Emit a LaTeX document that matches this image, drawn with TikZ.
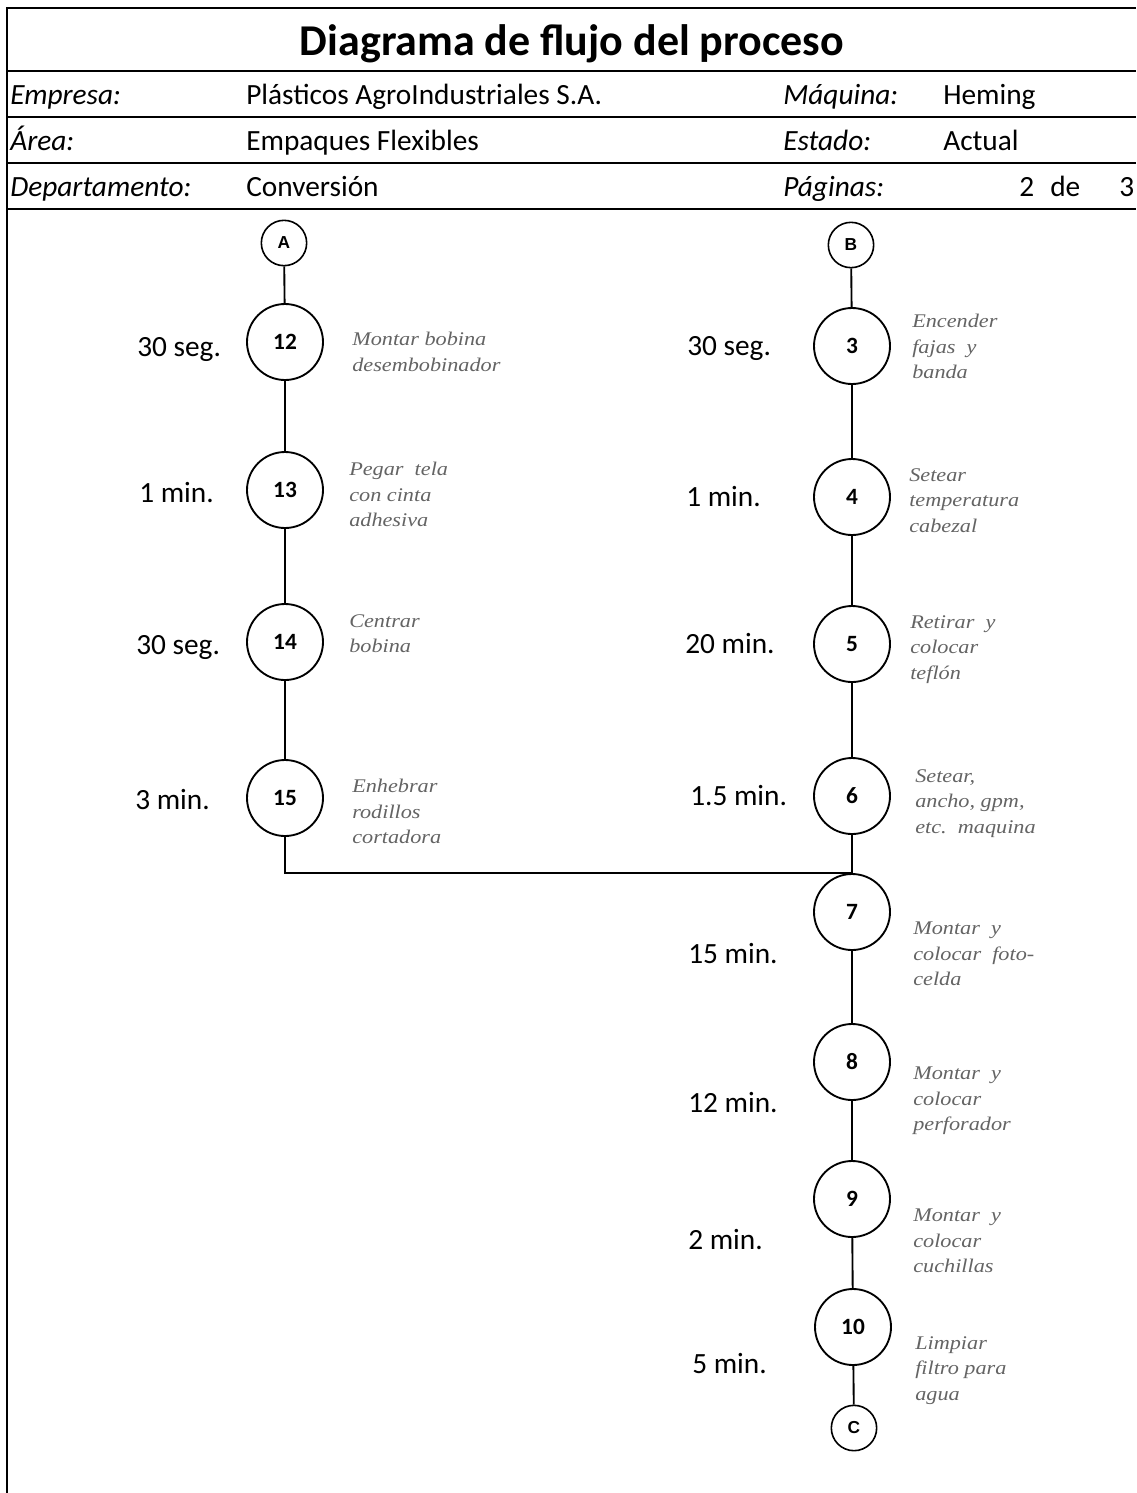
\documentclass[tikz,border=0pt]{standalone}
\usepackage{fontspec}
\setmainfont{Carlito}
\newfontfamily\descfont[FakeStretch=1.15]{Liberation Serif}
\newfontfamily\letterfont{Liberation Sans}
\definecolor{descgray}{RGB}{100,100,100}
\tikzset{
  rule/.style={line width=2.2pt},
  frameline/.style={line width=1.6pt},
  link/.style={line width=1.4pt},
  opcircle/.style={circle, draw, line width=1.4pt, minimum size=57pt, inner sep=0pt,
    font=\fontsize{17.5}{20}\selectfont\bfseries},
  pagelink/.style={circle, draw, line width=1.2pt, minimum size=34pt, inner sep=0pt,
    font=\letterfont\fontsize{13}{15}\selectfont\bfseries},
  timelabel/.style={anchor=base west, inner sep=0pt, font=\fontsize{22}{26}\selectfont},
  desc/.style={anchor=north west, inner sep=0pt, align=left, text=descgray,
    font=\descfont\itshape\fontsize{14.5}{19.1}\selectfont},
  titletext/.style={anchor=base, inner sep=0pt, font=\fontsize{33}{39}\selectfont\bfseries},
  hdrlabel/.style={anchor=base west, inner sep=0pt, font=\itshape\fontsize{22}{26}\selectfont},
  hdrvalue/.style={anchor=base west, inner sep=0pt, font=\fontsize{22}{26}\selectfont},
}
\begin{document}
\begin{tikzpicture}[x=0.75pt,y=-0.75pt]
\useasboundingbox (0,0) rectangle (1136,1493);
\fill[white] (0,0) rectangle (1136,1493);

% header frame
\draw[frameline] (7,7) -- (7,1493);
\foreach \yy in {8,71,117,163,209} \draw[rule] (7,\yy) -- (1136,\yy);

% header texts
\node[titletext] (title) at (572,55) {Diagrama de flujo del proceso};
\node[hdrlabel] (lblEmpresa) at (10,104) {Empresa:};
\node[hdrvalue] (valEmpresa) at (246,104) {Plásticos AgroIndustriales S.A.};
\node[hdrlabel] (lblMaquina) at (783,104) {Máquina:};
\node[hdrvalue] (valMaquina) at (943,104) {Heming};
\node[hdrlabel] (lblArea) at (10,150) {Área:};
\node[hdrvalue] (valArea) at (246,150) {Empaques Flexibles};
\node[hdrlabel] (lblEstado) at (783,150) {Estado:};
\node[hdrvalue] (valEstado) at (943,150) {Actual};
\node[hdrlabel] (lblDepto) at (10,196) {Departamento:};
\node[hdrvalue] (valDepto) at (246,196) {Conversión};
\node[hdrlabel] (lblPaginas) at (783,196) {Páginas:};
\node[hdrvalue] (pagNum) at (1019,196) {2};
\node[hdrvalue] (pagDe) at (1050,196) {de};
\node[hdrvalue] (pagTot) at (1119,196) {3};

% left column
\node[pagelink] (A) at (284,243) {A};
\node[opcircle] (n12) at (285,342) {12};
\node[opcircle] (n13) at (285,490) {13};
\node[opcircle] (n14) at (285,642) {14};
\node[opcircle] (n15) at (285,798) {15};

% right column
\node[pagelink] (B) at (851,245) {B};
\node[opcircle] (n3) at (852,346) {3};
\node[opcircle] (n4) at (852,497) {4};
\node[opcircle] (n5) at (852,644) {5};
\node[opcircle] (n6) at (852,796) {6};
\node[opcircle] (n7) at (852,912) {7};
\node[opcircle] (n8) at (852,1062) {8};
\node[opcircle] (n9) at (852,1199) {9};
\node[opcircle] (n10) at (853,1327) {10};
\node[pagelink] (C) at (854,1428) {C};

% connectors
\coordinate (join) at (852,873);
\draw[link] (A) -- (n12) -- (n13) -- (n14) -- (n15);
\draw[link] (n15.south) |- (join);
\draw[link] (B) -- (n3) -- (n4) -- (n5) -- (n6) -- (n7) -- (n8) -- (n9) -- (n10) -- (C);

% times
\node[timelabel] (t12) at (137,356) {30 seg.};
\node[timelabel] (t13) at (139,502) {1 min.};
\node[timelabel] (t14) at (136,654) {30 seg.};
\node[timelabel] (t15) at (135,809) {3 min.};
\node[timelabel] (t3) at (687,355) {30 seg.};
\node[timelabel] (t4) at (686,506) {1 min.};
\node[timelabel] (t5) at (685,653) {20 min.};
\node[timelabel] (t6) at (690,805) {1.5 min.};
\node[timelabel] (t7) at (688,963) {15 min.};
\node[timelabel] (t8) at (688,1112) {12 min.};
\node[timelabel] (t9) at (688,1249) {2 min.};
\node[timelabel] (t10) at (692,1373) {5 min.};

% activity descriptions
\node[desc] (d12) at (352,332) {Montar bobina\\desembobinador};
\node[desc] (d13) at (349,462) {Pegar\ \ tela\\con cinta\\adhesiva};
\node[desc] (d14) at (349,614) {Centrar\\bobina};
\node[desc] (d15) at (352,779) {Enhebrar\\rodillos\\cortadora};
\node[desc] (d3) at (912,314) {Encender\\fajas\ \ y\\banda};
\node[desc] (d4) at (909,468) {Setear\\temperatura\\cabezal};
\node[desc] (d5) at (910,615) {Retirar\ \ y\\colocar\\teflón};
\node[desc] (d6) at (915,769) {Setear,\\ancho, gpm,\\etc.\ \ maquina};
\node[desc] (d7) at (913,922) {Montar\ \ y\\colocar\ \ foto-\\celda};
\node[desc] (d8) at (913,1067) {Montar\ \ y\\colocar\\perforador};
\node[desc] (d9) at (913,1209) {Montar\ \ y\\colocar\\cuchillas};
\node[desc] (d10) at (915,1336) {Limpiar\\filtro para\\agua};
\end{tikzpicture}
\end{document}
